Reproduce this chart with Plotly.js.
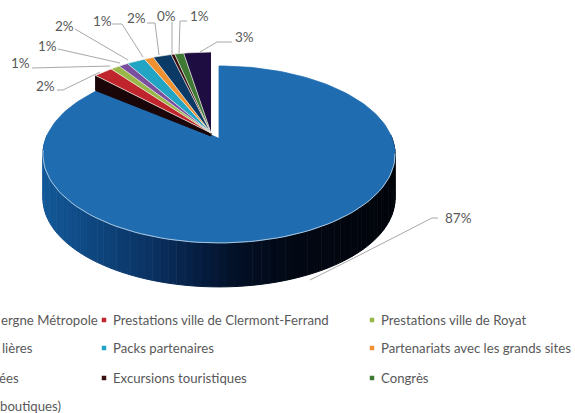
<!DOCTYPE html>
<html><head><meta charset="utf-8">
<script src="https://cdn.plot.ly/plotly-3.0.1.min.js"></script>
<style>html,body{margin:0;padding:0;background:#fff;overflow:hidden}#c{width:575px;height:413px}</style>
</head><body><div id="c"></div>
<script>
const shares=[87,2,1,1,2,1,2,0.4,1,3];
const pctLabels=['87%','2%','1%','1%','2%','1%','2%','0%','1%','3%'];
const sliceColors=['#1f6cb0','#c0242c','#9ab84a','#7a4fa0','#22a5c5','#ef9130','#0b3a66','#3a0f14','#3f7a35','#1d0d40'];
const legendTexts=['ergne Métropole','Prestations ville de Clermont-Ferrand','Prestations ville de Royat','lières','Packs partenaires','Partenariats avec les grands sites','ées','Excursions touristiques','Congrès','boutiques)'];
const legendColumn=[0,1,2,0,1,2,0,1,2,0];
const legendRow=[0,0,0,1,1,1,2,2,2,3];
const legendColors=[null,'#c0242c','#9ab84a',null,'#22a5c5','#ef9130',null,'#3a0f14','#3f7a35',null];
const columnX=[0,113,381],swatchX=[0,104,372],rowY=[320,348,378,406];
const col0Right=[98,33,19,61];

// perspective projection of the tilted pie plane, pixel-like data coordinates
const K=0.186,A=85.4,B=173;
function proj(deg,r,cx,cy,dy,sx){
  const t=deg*Math.PI/180,u=r*Math.sin(t),v=r*Math.cos(t),d=1+K*v;
  return [cx+(sx||1)*B*u/d,cy-A*v/d+(dy||0)];
}
const total=shares.reduce((a,b)=>a+b,0);
const traces=[];
function poly(xy,color,line,w){
  traces.push({type:'scatter',mode:'lines',x:xy.map(p=>p[0]),y:xy.map(p=>p[1]),fill:'toself',fillcolor:color,
    line:{color:line||color,width:line?(w||0.8):1},hoverinfo:'skip',showlegend:false});
}
function arc(a0,a1,r,cx,cy,dy,sx){
  const n=Math.max(2,Math.ceil(Math.abs(a1-a0)/2)),o=[];
  for(let i=0;i<=n;i++)o.push(proj(a0+(a1-a0)*i/n,r,cx,cy,dy,sx));
  return o;
}
const rimStops=[[0,[18,88,152]],[0.15,[14,70,126]],[0.32,[10,48,96]],[0.44,[6,30,66]],[0.55,[3,16,38]],[0.7,[2,8,20]],[1,[1,4,10]]];
function rimColor(f){
  for(let i=1;i<rimStops.length;i++){
    if(f<=rimStops[i][0]){
      const a=rimStops[i-1],b=rimStops[i],g=(f-a[0])/(b[0]-a[0]);
      return 'rgb('+a[1].map((c,j)=>Math.round(c+(b[1][j]-c)*g)).join(',')+')';
    }
  }
  return 'rgb(1,4,10)';
}
const MX=219,MY=138,GX=211,GY=133,GR=1.152,GS=0.89,DEPTH=44;
const mainEnd=shares[0]/total*360;
const segs=80,aL=272,aR=88;
for(let i=0;i<segs;i++){
  const a0=aR+(aL-aR)*i/segs,a1=aR+(aL-aR)*(i+1)/segs;
  const top=arc(a0,a1,1,MX,MY,0),bot=arc(a1,a0,1,MX,MY,DEPTH);
  const xm=(top[0][0]+top[top.length-1][0])/2;
  poly(top.concat(bot),rimColor((xm-43)/352));
}
// top of the main slice
poly([[MX,MY]].concat(arc(0,mainEnd,1,MX,MY,0)),sliceColors[0],'#1f6cb0');
// pale front edge of the top face
const edge=arc(100,262,1,MX,MY,0);
traces.push({type:'scatter',mode:'lines',x:edge.map(p=>p[0]),y:edge.map(p=>p[1]),line:{color:'#cfe0ee',width:0.8},hoverinfo:'skip',showlegend:false});
// exploded small slices
let acc=shares[0];
for(let i=1;i<shares.length;i++){
  const a0=acc/total*360,a1=(acc+shares[i])/total*360;acc+=shares[i];
  if(i===1){poly([proj(a0,GR,GX,GY,0,GS),proj(a0,GR,GX,GY,15,GS),[GX,GY+3],[GX,GY]],'#1a0608');}
  poly([[GX,GY]].concat(arc(a0,a1,GR,GX,GY,0,GS)),sliceColors[i],'#f4f0e8',0.7);
}
// legend swatches
legendColors.forEach((c,i)=>{ if(!c)return;
  traces.push({type:'scatter',mode:'markers',x:[swatchX[legendColumn[i]]],y:[rowY[legendRow[i]]],
    marker:{symbol:'square',size:4.5,color:c},hoverinfo:'skip',showlegend:false});
});
const labelPos=[[445,218],[36,86],[11,63],[38,46],[55,26],[93,21],[127,18],[157,16],[190,16],[235,37]];
const leaderPts=[[[438,218],[432,218],[350,260],[310,280]],[[57,90],[63,90],[100,72]],[[32,68],[110,66]],[[58,49],[120,63]],[[75,29],[128,60]],[[112,24],[122,24],[143,57]],[[147,23],[155,23],[159,55]],[[172,22],[172,54]],[[187,21],[180,21],[179,53]],[[232,42],[217,42],[200,52]]];
leaderPts.forEach(p=>traces.push({type:'scatter',mode:'lines',x:p.map(q=>q[0]),y:p.map(q=>q[1]),line:{color:'#a8a8a8',width:1},hoverinfo:'skip',showlegend:false}));
const annotations=[];
const fam='Lato, "Open Sans", sans-serif';
pctLabels.forEach((t,i)=>annotations.push({x:labelPos[i][0],y:labelPos[i][1],text:t,showarrow:false,xanchor:'left',yanchor:'middle',xshift:-2,font:{family:fam,size:13.5,color:'#595959'}}));
legendTexts.forEach((t,i)=>{
  const c=legendColumn[i],left=c!==0;
  annotations.push({x:left?columnX[c]:col0Right[legendRow[i]],y:rowY[legendRow[i]],text:t,showarrow:false,xanchor:left?'left':'right',yanchor:'middle',xshift:left?-2:2,font:{family:fam,size:13.2,color:'#595959'}});
});
Plotly.newPlot('c',traces,{
  width:575,height:413,margin:{l:0,r:0,t:0,b:0},paper_bgcolor:'#fff',plot_bgcolor:'#fff',showlegend:false,
  xaxis:{range:[0,575],visible:false,fixedrange:true},
  yaxis:{range:[413,0],visible:false,fixedrange:true},
  annotations
},{displayModeBar:false,staticPlot:true});
</script></body></html>
